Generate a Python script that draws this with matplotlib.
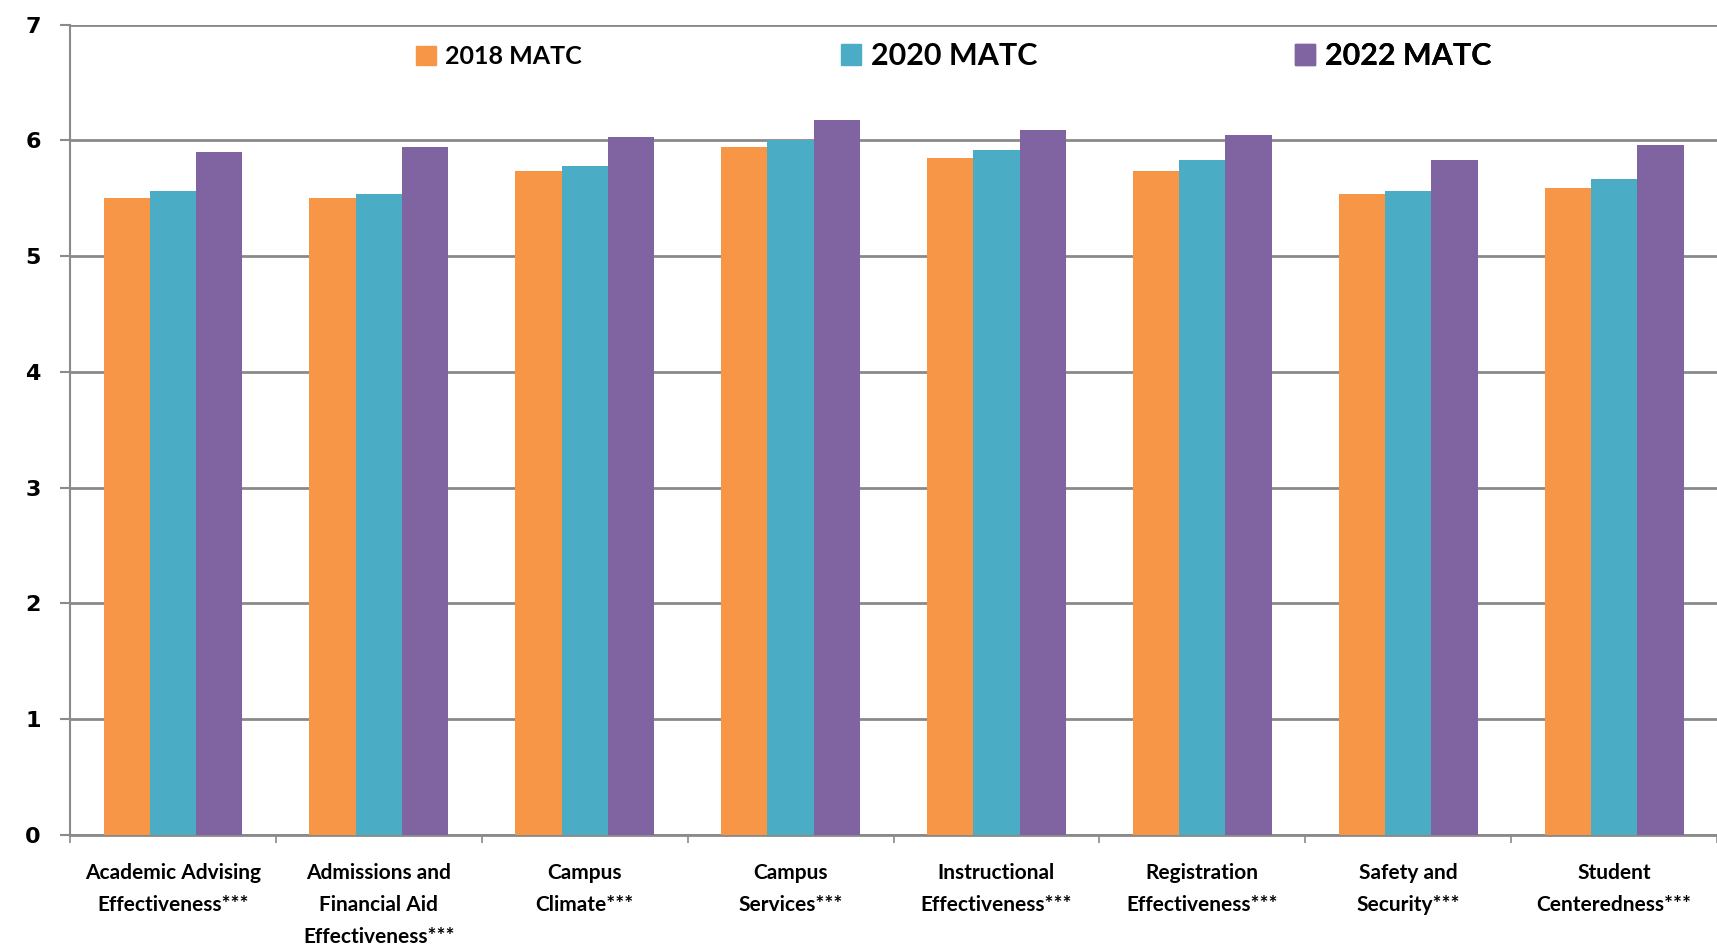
import matplotlib
matplotlib.use("Agg")
import matplotlib.pyplot as plt
from matplotlib.patches import Patch
import numpy as np

categories = [
    "Academic Advising\nEffectiveness***",
    "Admissions and\nFinancial Aid\nEffectiveness***",
    "Campus\nClimate***",
    "Campus\nServices***",
    "Instructional\nEffectiveness***",
    "Registration\nEffectiveness***",
    "Safety and\nSecurity***",
    "Student\nCenteredness***",
]
series_names = ["2018 MATC", "2020 MATC", "2022 MATC"]
matc_2018 = [5.50, 5.50, 5.74, 5.94, 5.85, 5.74, 5.54, 5.59]
matc_2020 = [5.56, 5.54, 5.78, 6.00, 5.92, 5.83, 5.56, 5.67]
matc_2022 = [5.90, 5.94, 6.03, 6.18, 6.09, 6.05, 5.83, 5.96]

colors = ["#F79646", "#4BACC6", "#8064A2"]
label_font = "Lato"

fig = plt.figure(figsize=(17.17, 9.52), dpi=100)
ax = fig.add_axes([0.0408, 0.123, 0.9592, 0.851])

x = np.arange(len(categories))
w = 0.225
for i, vals in enumerate([matc_2018, matc_2020, matc_2022]):
    ax.bar(x + (i - 1) * w, vals, width=w, color=colors[i], zorder=3)

ax.set_xlim(-0.5, len(categories) - 0.5)
ax.set_ylim(0, 7)
ax.set_yticks(range(0, 8))
ax.yaxis.grid(True, color="#8a8a8a", linewidth=2, zorder=0)
ax.set_axisbelow(True)

for s in ["top", "right"]:
    ax.spines[s].set_visible(False)
ax.spines["left"].set_color("#8a8a8a")
ax.spines["left"].set_linewidth(1.5)
ax.spines["bottom"].set_color("#8a8a8a")
ax.spines["bottom"].set_linewidth(2)

ax.tick_params(axis="y", length=7, width=1.5, color="#8a8a8a", pad=14,
               labelsize=16)
for t in ax.get_yticklabels():
    t.set_fontweight("bold")
    t.set_fontfamily("DejaVu Sans")

ax.set_xticks(x)
ax.set_xticklabels(categories, fontsize=15, fontfamily=label_font,
                   fontweight="bold", linespacing=1.75, va="top")
ax.tick_params(axis="x", length=0, pad=20)
ax.set_xticks(np.arange(-0.5, len(categories) + 0.5), minor=True)
ax.tick_params(axis="x", which="minor", length=6, width=1.2, color="#8a8a8a")

# one legend per entry so they sit where the original puts them
legend_pos = [0.2027, 0.4587, 0.7344]
legend_size = [18, 22, 22]
handle_len = [0.8, 0.65, 0.65]
for name, col, xp, fs, hl in zip(series_names, colors, legend_pos,
                                 legend_size, handle_len):
    lg = ax.legend(handles=[Patch(color=col, label=name)], loc="center left",
                   bbox_to_anchor=(xp, 0.961), frameon=False,
                   handlelength=hl, handleheight=hl, handletextpad=0.35,
                   borderpad=0, prop={"family": label_font, "weight": "bold",
                                      "size": fs})
    ax.add_artist(lg)

fig.savefig("out.png", dpi=100)
